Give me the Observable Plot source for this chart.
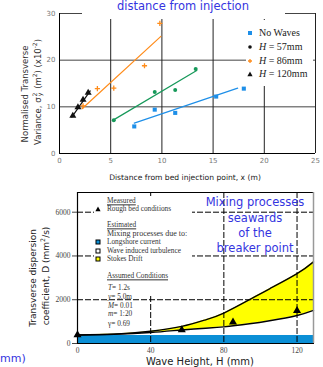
<!DOCTYPE html>
<html><head><meta charset="utf-8">
<script src="https://cdn.jsdelivr.net/npm/d3@7"></script>
<script src="https://cdn.jsdelivr.net/npm/@observablehq/plot@0.6"></script>
<style>
body{margin:0;background:#fff;}
#wrap{position:relative;width:323px;height:367px;overflow:hidden;background:#fff;}
.a{position:absolute;white-space:nowrap;line-height:1;}
.blue{color:#3434e0;font-family:"DejaVu Sans";}
.serif{font-family:"Liberation Serif";color:#222;}
.sans{font-family:"DejaVu Sans";color:#222;}
.stack{display:inline-block;vertical-align:middle;line-height:0.8;font-size:0.72em;text-align:center;margin:0 1px;}
u{text-decoration:underline;}
</style></head><body><div id="wrap"></div>
<script>
// ---------- top chart data ----------
const noWavesX = [7.3, 9.3, 11.3, 15.3, 18.0];
const noWavesY = [5.8, 9.4, 8.7, 12.2, 13.9];
const h57X = [5.3, 9.3, 11.3, 13.3];
const h57Y = [7.1, 13.2, 13.6, 18.1];
const h86X = [2.3, 3.7, 5.3, 8.3, 9.8];
const h86Y = [10.2, 13.9, 14.0, 18.8, 27.9];
const h120X = [1.3, 1.8, 2.3, 2.8];
const h120Y = [8.1, 9.9, 11.5, 13.0];
// fitted trend lines (end points)
const fitNoWavesX = [7.3, 17.4], fitNoWavesY = [6.5, 14.0];
const fit57X = [5.2, 13.4], fit57Y = [7.1, 17.8];
const fit86X = [2.2, 9.9], fit86Y = [9.6, 25.1];
const fit120X = [1.2, 3.0], fit120Y = [7.8, 13.4];
const topXTicks = [0, 5, 10, 15, 20, 25];
const topYTicks = [0, 10, 20, 30];
const topLegend = ["No Waves", "H = 57mm", "H = 86mm", "H = 120mm"];

// ---------- bottom chart data ----------
const waveH = [0, 20, 40, 57, 70, 80, 94, 105, 120, 129];
const longshoreD = [360, 360, 360, 360, 360, 360, 360, 360, 360, 360];
const turbulenceD = [390, 420, 500, 620, 700, 760, 900, 1040, 1280, 1510];
const stokesD = [390, 430, 560, 780, 1080, 1390, 2000, 2500, 3190, 3730];
const measuredH = [0, 57, 85, 120];
const measuredD = [390, 620, 980, 1500];
const botXTicks = [0, 40, 80, 120];
const botYTicks = [0, 2000, 4000, 6000];

const C = {blue:"#1e8fe8", green:"#17995a", orange:"#ff8c1a", black:"#111"};
const zip = (xs, ys) => xs.map((x, i) => ({x, y: ys[i]}));

const wrap = document.getElementById("wrap");

// ---------- top plot ----------
const topPlot = Plot.plot({
  width: 323, height: 190,
  marginLeft: 59, marginRight: 8, marginTop: 13, marginBottom: 37,
  style: {fontFamily: "DejaVu Sans", fontSize: "7px", color: "#777", background: "transparent"},
  x: {domain: [0, 25], ticks: topXTicks, tickSize: 0, tickPadding: 5, label: null},
  y: {domain: [0, 30], ticks: topYTicks, tickSize: 0, tickPadding: 4, label: null},
  marks: [
    Plot.ruleY(topYTicks.slice(1), {stroke: "#444", strokeWidth: 1}),
    Plot.ruleX(topXTicks.slice(1), {stroke: "#222", strokeWidth: 1}),
    Plot.ruleX([0], {stroke: "#000"}),
    Plot.ruleY([0], {stroke: "#000"}),
    Plot.line(zip(fitNoWavesX, fitNoWavesY), {x: "x", y: "y", stroke: C.blue, strokeWidth: 1.2}),
    Plot.line(zip(fit57X, fit57Y), {x: "x", y: "y", stroke: C.green, strokeWidth: 1.2}),
    Plot.line(zip(fit86X, fit86Y), {x: "x", y: "y", stroke: C.orange, strokeWidth: 1.2}),
    Plot.line(zip(fit120X, fit120Y), {x: "x", y: "y", stroke: C.black, strokeWidth: 1.2}),
    Plot.dot(zip(noWavesX, noWavesY), {x: "x", y: "y", symbol: "square", fill: C.blue, r: 2.3}),
    Plot.dot(zip(h57X, h57Y), {x: "x", y: "y", symbol: "circle", fill: C.green, r: 2}),
    Plot.dot(zip(h86X, h86Y), {x: "x", y: "y", symbol: "plus", stroke: C.orange, strokeWidth: 1.3, r: 1.8}),
    Plot.dot(zip(h120X, h120Y), {x: "x", y: "y", symbol: "triangle", fill: C.black, r: 2.6})
  ]
});
topPlot.style.position = "absolute"; topPlot.style.left = "0px"; topPlot.style.top = "0px";
wrap.appendChild(topPlot);

// ---------- bottom plot ----------
const botData = waveH.map((h, i) => ({h, long: longshoreD[i], turb: turbulenceD[i], stokes: stokesD[i]}));
const botPlot = Plot.plot({
  width: 323, height: 187,
  marginLeft: 77, marginRight: 10, marginTop: 12, marginBottom: 24,
  style: {fontFamily: "Liberation Serif", fontSize: "7.5px", color: "#444", background: "transparent"},
  x: {domain: [0, 129], ticks: botXTicks, tickSize: 0, tickPadding: 4, label: null, tickFormat: d => String(d)},
  y: {domain: [0, 6900], ticks: botYTicks, tickSize: 5, tickPadding: 2, label: null, tickFormat: d => String(d)},
  marks: [
    Plot.frame({stroke: "#000"}),
    Plot.areaY(botData, {x: "h", y1: "turb", y2: "stokes", fill: "#ffff00", curve: "natural"}),
    Plot.areaY(botData, {x: "h", y1: 0, y2: "long", fill: "#0b8fd6"}),
    Plot.ruleY(botYTicks.slice(1), {stroke: "#000", strokeDasharray: "6,2", strokeWidth: 1}),
    Plot.ruleX(botXTicks.slice(1), {stroke: "#000", strokeDasharray: "6,2", strokeWidth: 1}),
    Plot.line(botData, {x: "h", y: "turb", stroke: "#000", strokeWidth: 1.4, curve: "natural"}),
    Plot.line(botData, {x: "h", y: "stokes", stroke: "#000", strokeWidth: 1.4, curve: "natural"}),
    Plot.ruleX([0], {stroke: "#000", strokeWidth: 1.2}),
    Plot.ruleX([129], {stroke: "#999", strokeWidth: 1.5}),
    Plot.dot(zip(measuredH, measuredD), {x: "x", y: "y", symbol: "triangle", fill: "#000", r: 3})
  ]
});
botPlot.style.position = "absolute"; botPlot.style.left = "0px"; botPlot.style.top = "180px";
wrap.appendChild(botPlot);

// ---------- HTML text overlays ----------
function add(html, x, y, cls, anchor = "c", extra = "") {
  const d = document.createElement("div");
  d.className = "a " + cls;
  d.innerHTML = html;
  d.style.left = x + "px"; d.style.top = y + "px";
  const t = anchor === "c" ? "translate(-50%,-50%)" :
            anchor === "l" ? "translate(0,-50%)" :
            anchor === "r" ? "translate(-100%,-50%)" :
            "translate(-50%,-50%) rotate(-90deg)";
  d.style.transform = t;
  if (extra) d.style.cssText += extra;
  wrap.appendChild(d);
  return d;
}
function box(x, y, w, h) {
  const d = document.createElement("div");
  d.className = "a";
  d.style.cssText = `left:${x}px;top:${y}px;width:${w}px;height:${h}px;background:#fff;`;
  wrap.appendChild(d);
}
const sym = (shape, fill, stroke = "none") => {
  const s = shape === "sq" ? `<rect x="1" y="1" width="4" height="4" fill="${fill}" stroke="${stroke}"/>` :
            shape === "ci" ? `<circle cx="3" cy="3" r="1.8" fill="${fill}"/>` :
            shape === "pl" ? `<path d="M3 1V5M1 3H5" stroke="${fill}" stroke-width="1.3"/>` :
            `<path d="M3 0.6L5.6 5.2H0.4Z" fill="${fill}"/>`;
  return `<svg width="6" height="6" style="display:block">${s}</svg>`;
};

// top title + legend
box(82, 0, 203, 19);
add("distance from injection", 183, 6.5, "blue", "c", "font-size:11.5px;");
box(246, 20, 67, 66);
const topSyms = [sym("sq", C.blue), sym("ci", "#111"), sym("pl", C.orange), sym("tr", "#111")];
const topLegendY = [32.7, 46.7, 60.7, 74.3];
topLegend.forEach((t, i) => {
  add(topSyms[i], 250, topLegendY[i], "", "c");
  const html = t.startsWith("H") ? "<i>H</i>" + t.slice(1) : t;
  add(html, 259, topLegendY[i], "serif", "l", "font-size:10px;");
});
add("Distance from bed injection point, x (m)", 185, 178, "sans", "c", "font-size:7.6px;");
add("Normalised Transverse", 25, 94, "sans", "rot", "font-size:8.5px;color:#333;");
add('Variance, σ<span class="stack">2<br>y</span> (m<sup style="font-size:0.7em">2</sup>) (x10<sup style="font-size:0.7em">-2</sup>)', 38, 92, "sans", "rot", "font-size:8.5px;color:#333;");

// bottom legend
box(94, 196, 98, 100);
add(sym("tr", "#000"), 98, 209, "", "c");
add(sym("sq", "#0b8fd6", "#000"), 98, 242, "", "c");
add(sym("sq", "#fff", "#000"), 98, 251, "", "c");
add(sym("sq", "#ffff00", "#000"), 98, 259, "", "c");
const legLines = [
  ["<u>Measured</u>", 201], ["Rough bed conditions", 209],
  ["<u>Estimated</u>", 225], ["Mixing processes due to:", 234],
  ["Longshore current", 242], ["Wave induced turbulence", 251], ["Stokes Drift", 259],
  ["<u>Assumed Conditions</u>", 276],
  ["<i>T</i>= 1.2s", 288], ["<i>y</i>= 5.0m", 297], ["<i>M</i>= 0.01", 306],
  ["<i>m</i>= 1:20", 314], ["γ= 0.69", 324]
];
legLines.forEach(([t, y], i) => {
  const fs = i === 3 ? "8px" : "7.3px";
  add(t, i >= 8 ? 108 : 107, y, "serif", "l", `font-size:${fs};color:#333;`);
});
["Mixing processes", "seawards", "of the", "breaker point"].forEach((t, i) => {
  add(t, 255, [203, 219, 234, 249][i], "blue", "c", "font-size:11.5px;");
});
add("Transverse dispersion", 33, 278, "sans", "rot", "font-size:9px;");
add("coefficient, D (mm<sup style='font-size:0.7em'>2</sup>/s)", 45, 276, "sans", "rot", "font-size:9px;");
add("Wave Height, H (mm)", 200, 362, "sans", "c", "font-size:10px;");
add("mm)", 0, 358, "blue", "l", "font-size:11px;");
</script></body></html>
